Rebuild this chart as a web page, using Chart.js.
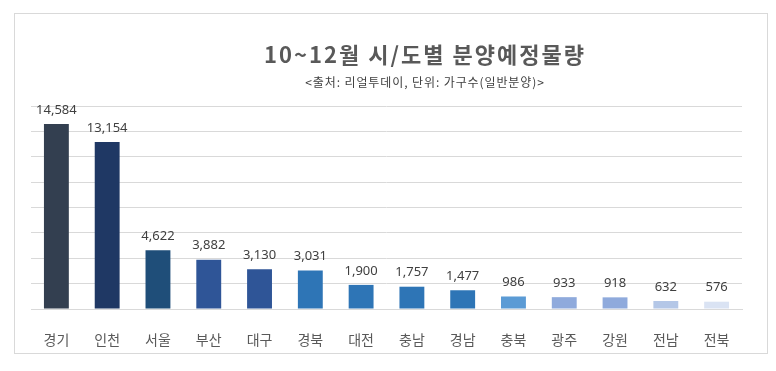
<!DOCTYPE html>
<html>
<head>
<meta charset="utf-8">
<script src="https://cdn.jsdelivr.net/npm/chart.js@4/dist/chart.umd.min.js"></script>
<style>
  body { margin: 0; background: #fff; }
  #wrap { position: relative; width: 776px; height: 371px; }
  #frame { position: absolute; left: 14px; top: 13px; width: 752px; height: 339px; border: 1px solid #d9d9d9; }
  canvas { position: absolute; left: 0; top: 0; }
  .t { position: absolute; left: 225px; width: 400px; text-align: center; font-family: "Noto Sans CJK KR", sans-serif; white-space: nowrap; }
  #title { top: 37px; font-size: 22px; font-weight: bold; color: #595959; letter-spacing: 2px; }
  #sub { top: 73px; font-size: 12px; color: #404040; letter-spacing: 0.9px; }
</style>
</head>
<body>
<div id="wrap">
  <div id="frame"></div>
  <canvas id="myChart" width="776" height="371"></canvas>
  <div class="t" id="title">10~12월 시/도별 분양예정물량</div>
  <div class="t" id="sub">&lt;출처: 리얼투데이, 단위: 가구수(일반분양)&gt;</div>
</div>
<script>
// 지역
const regions = ['경기', '인천', '서울', '부산', '대구', '경북', '대전', '충남', '경남', '충북', '광주', '강원', '전남', '전북'];
// 분양예정 가구수
const units = [14584, 13154, 4622, 3882, 3130, 3031, 1900, 1757, 1477, 986, 933, 918, 632, 576];
// 막대 색
const barColors = ['#333f50', '#1f3864', '#1f4e79', '#2f5597', '#2f5597', '#2e75b6', '#2e75b6', '#2e75b6', '#2e75b6',
  '#5b9bd5', '#8faadc', '#8faadc', '#b4c7e7', '#dae3f3'];

// 막대 위에 값 표시
const valueLabels = {
  id: 'valueLabels',
  afterDatasetsDraw(chart) {
    const ctx = chart.ctx;
    const meta = chart.getDatasetMeta(0);
    ctx.save();
    ctx.font = '13px "Noto Sans", sans-serif';
    ctx.fillStyle = '#404040';
    ctx.textAlign = 'center';
    ctx.textBaseline = 'middle';
    meta.data.forEach((bar, i) => {
      ctx.fillText(units[i].toLocaleString('en-US'), bar.x, bar.y - 14);
    });
    ctx.restore();
  }
};

const ctx = document.getElementById('myChart').getContext('2d');
new Chart(ctx, {
  type: 'bar',
  data: {
    labels: regions,
    datasets: [{
      data: units,
      backgroundColor: barColors,
      barPercentage: 0.49,
      categoryPercentage: 1
    }]
  },
  options: {
    responsive: false,
    animation: false,
    layout: { padding: { left: 31, right: 34, top: 106, bottom: 0 } },
    plugins: { legend: { display: false }, tooltip: { enabled: false } },
    scales: {
      x: {
        grid: { display: false },
        border: { color: '#d9d9d9' },
        ticks: { color: '#595959', font: { family: '"Noto Sans CJK KR", sans-serif', size: 14 }, padding: 14 },
        afterFit(scale) { scale.height = 62; }
      },
      y: {
        min: 0,
        max: 16000,
        ticks: { display: false, stepSize: 2000 },
        grid: { color: '#d9d9d9', drawTicks: false },
        border: { display: false },
        afterFit(scale) { scale.width = 0; }
      }
    }
  },
  plugins: [valueLabels]
});
</script>
</body>
</html>
